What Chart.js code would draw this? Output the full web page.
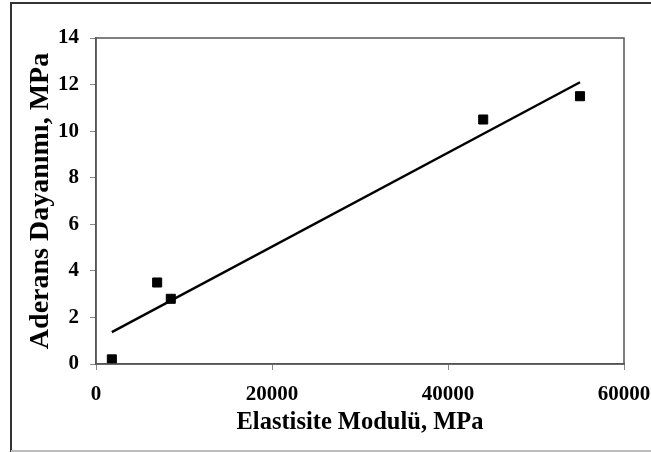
<!DOCTYPE html>
<html>
<head>
<meta charset="utf-8">
<script src="https://cdn.jsdelivr.net/npm/chart.js@4/dist/chart.umd.min.js"></script>
<style>
  html, body { margin: 0; padding: 0; background: #fff; }
  #wrap { width: 651px; height: 452px; position: relative; }
</style>
</head>
<body>
<div id="wrap"><canvas id="chart" width="651" height="452"></canvas></div>
<script>
// measured points
const modulusX = [1800, 6950, 8500, 44000, 55000];
const strengthY = [0.2, 3.5, 2.8, 10.5, 11.5];
// linear trendline endpoints
const trendX = [1800, 55000];
const trendY = [1.37, 12.1];

const xTicks = [0, 20000, 40000, 60000];
const yTicks = [0, 2, 4, 6, 8, 10, 12, 14];

const serif = "'Liberation Serif', 'Times New Roman', serif";
const tickFont = { family: serif, size: 21, weight: 'bold' };

const frame = {
  id: 'frame',
  afterDraw(chart) {
    const { ctx, chartArea: a } = chart;
    ctx.save();
    ctx.strokeStyle = '#555';
    ctx.lineWidth = 1.5;
    ctx.strokeRect(a.left, a.top, a.right - a.left, a.bottom - a.top);
    // outer frame: left + top dark, bottom light, right cut off
    ctx.strokeStyle = '#333';
    ctx.lineWidth = 2;
    ctx.beginPath();
    ctx.moveTo(11, 452);
    ctx.lineTo(11, 3);
    ctx.lineTo(651, 3);
    ctx.stroke();
    ctx.strokeStyle = '#bbb';
    ctx.beginPath();
    ctx.moveTo(11, 451);
    ctx.lineTo(651, 451);
    ctx.stroke();
    ctx.restore();
  },
};

new Chart(document.getElementById('chart').getContext('2d'), {
  type: 'scatter',
  data: {
    datasets: [
      {
        label: 'data',
        data: modulusX.map((x, i) => ({ x, y: strengthY[i] })),
        pointStyle: 'rect',
        pointRadius: 6.4,
        backgroundColor: '#000',
        borderColor: '#000',
        borderWidth: 1,
      },
      {
        label: 'trend',
        type: 'line',
        data: trendX.map((x, i) => ({ x, y: trendY[i] })),
        borderColor: '#000',
        borderWidth: 2.4,
        pointRadius: 0,
        fill: false,
      },
    ],
  },
  options: {
    responsive: false,
    animation: false,
    layout: { padding: { left: 0, top: 38, right: 27, bottom: 0 } },
    plugins: { legend: { display: false }, tooltip: { enabled: false } },
    scales: {
      x: {
        type: 'linear',
        min: 0,
        max: 60000,
        afterBuildTicks: (s) => { s.ticks = xTicks.map((v) => ({ value: v })); },
        afterFit: (s) => { s.height = 88; s.paddingLeft = 0; s.paddingRight = 0; },
        ticks: { color: '#000', font: tickFont, padding: 12, maxRotation: 0, callback: (v) => String(v) },
        grid: { drawOnChartArea: false, drawTicks: true, tickLength: 6, color: '#888' },
        border: { color: '#555', width: 1.5 },
        title: { display: true, text: 'Elastisite Modulü, MPa', color: '#000', font: { family: serif, size: 24.5, weight: 'bold' }, padding: { top: 0, bottom: 15 } },
      },
      y: {
        type: 'linear',
        min: 0,
        max: 14,
        afterBuildTicks: (s) => { s.ticks = yTicks.map((v) => ({ value: v })); },
        afterFit: (s) => { s.width = 96; s.paddingTop = 0; s.paddingBottom = 0; },
        ticks: { color: '#000', font: tickFont, padding: 11 },
        grid: { drawOnChartArea: false, drawTicks: true, tickLength: 6, color: '#888' },
        border: { color: '#555', width: 1.5 },
        title: { display: true, text: 'Aderans Dayanımı, MPa', color: '#000', font: { family: serif, size: 28, weight: 'bold' }, padding: { top: 24, bottom: 0 } },
      },
    },
  },
  plugins: [frame],
});
</script>
</body>
</html>
